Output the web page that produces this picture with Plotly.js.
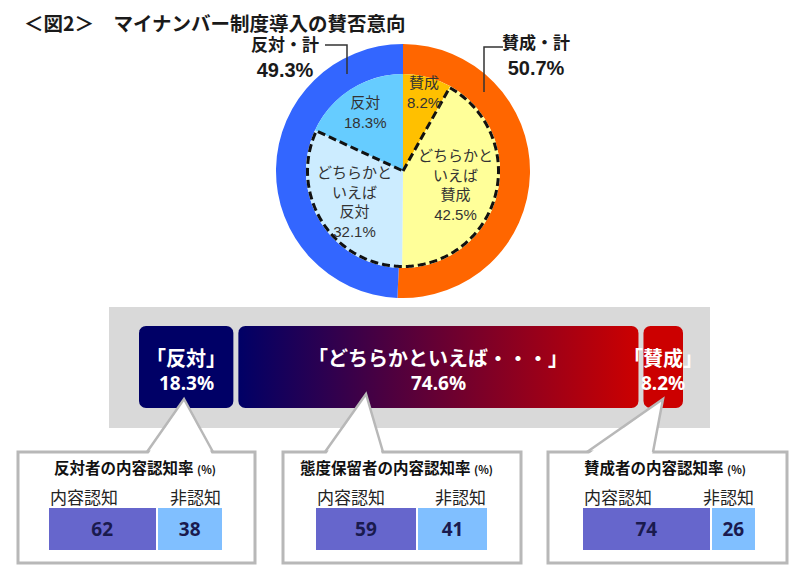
<!DOCTYPE html>
<html><head><meta charset="utf-8">
<script src="https://cdn.plot.ly/plotly-3.0.1.min.js"></script>
<style>html,body{margin:0;padding:0;background:#fff}</style>
</head><body><div id="chart" style="width:805px;height:577px"></div>
<script>
// ---------------- data ----------------
const outerLabels = ['賛成・計', '反対・計'];
const outerValues = [50.7, 49.3];
const innerLabels = ['賛成', 'どちらかといえば賛成', 'どちらかといえば反対', '反対'];
const innerLabelText = ['賛成', 'どちらかと<br>いえば<br>賛成', 'どちらかと<br>いえば<br>反対', '反対'];
const innerValues = [8.2, 42.5, 32.1, 18.3];
const bandLabels = ['「反対」', '「どちらかといえば・・・」', '「賛成」'];
const bandValues = [18.3, 74.6, 8.2];
const groupTitles = ['反対者の内容認知率', '態度保留者の内容認知率', '賛成者の内容認知率'];
const awareLabels = ['内容認知', '非認知'];
const awareKnown = [62, 59, 74];
const awareUnknown = [38, 41, 26];
const chartTitle = '＜図2＞　マイナンバー制度導入の賛否意向';

// ---------------- helpers ----------------
const W = 805, H = 577;
const X = p => p / W, Y = p => 1 - p / H;
const sum = a => a.reduce((s, v) => s + v, 0);
const JP = '"Noto Sans CJK JP", sans-serif';
const MIX = '"Liberation Sans", Arial, "Noto Sans CJK JP", sans-serif';
const NUM = '"Noto Sans", "Liberation Sans", sans-serif';

const traces = [];
const shapes = [];
const annotations = [];

// ---------------- pie ----------------
const cx = 403, cy = 171, R = 127, Rin = 97;
traces.push({
  type: 'pie', values: outerValues, labels: outerLabels,
  domain: {x: [X(cx - R), X(cx + R)], y: [Y(cy + R), Y(cy - R)]},
  hole: Rin / R, sort: false, direction: 'clockwise', rotation: 0,
  marker: {colors: ['#FF6600', '#3366FF'], line: {width: 0}},
  textinfo: 'none', hoverinfo: 'skip', showlegend: false
});
traces.push({
  type: 'pie', values: innerValues, labels: innerLabels,
  domain: {x: [X(cx - Rin), X(cx + Rin)], y: [Y(cy + Rin), Y(cy - Rin)]},
  sort: false, direction: 'clockwise', rotation: 0,
  marker: {colors: ['#FFC000', '#FFFF99', '#CCECFF', '#66CCFF'], line: {width: 0}},
  textinfo: 'none', hoverinfo: 'skip', showlegend: false
});

const innerTot = sum(innerValues);
const innerCum = innerValues.map((v, i) => sum(innerValues.slice(0, i)));
const ang = v => v / innerTot * 360;
const pt = (deg, r) => [cx + r * Math.sin(deg * Math.PI / 180), cy - r * Math.cos(deg * Math.PI / 180)];

// dashed outline around the two "どちらかといえば" slices
{
  const a0 = ang(innerCum[1]), a1 = ang(innerCum[2] + innerValues[2]);
  let d = `M ${X(cx)},${Y(cy)}`;
  for (let a = a0; ; a += 1) {
    const aa = Math.min(a, a1);
    const [px, py] = pt(aa, Rin - 1.5);
    d += ` L ${X(px)},${Y(py)}`;
    if (aa >= a1) break;
  }
  d += ` L ${X(cx)},${Y(cy)}`;
  shapes.push({type: 'path', xref: 'paper', yref: 'paper', path: d, layer: 'above',
    line: {color: '#111111', width: 3, dash: '8px,4px'}});
}

// inner slice labels
const innerLabelR = [0.84, 0.56, 0.59, 0.71];
innerValues.forEach((v, i) => {
  const [px, py] = pt(ang(innerCum[i] + v / 2), innerLabelR[i] * Rin);
  annotations.push({xref: 'paper', yref: 'paper', x: X(px), y: Y(py),
    xanchor: 'center', yanchor: 'middle', showarrow: false,
    text: innerLabelText[i] + '<br>' + v.toFixed(1) + '%',
    font: {family: MIX, size: 15, color: '#333333'}});
});

// outer labels + leader lines
const outerLabelPos = [[536, 56], [285, 58]];
outerValues.forEach((v, i) => {
  annotations.push({xref: 'paper', yref: 'paper', x: X(outerLabelPos[i][0]), y: Y(outerLabelPos[i][1]),
    xanchor: 'center', yanchor: 'middle', showarrow: false,
    text: `<span style="font-size:17px">${outerLabels[i]}</span><br>${v.toFixed(1)}%`,
    font: {family: MIX, size: 20, color: '#1a1a1a', weight: 'bold'}});
});
const leader = (pts) => ({type: 'path', xref: 'paper', yref: 'paper', layer: 'above',
  path: pts.map((p, k) => (k ? 'L ' : 'M ') + X(p[0]) + ',' + Y(p[1])).join(' '),
  line: {color: '#333333', width: 1.5}});
shapes.push(leader([[325, 45], [347, 45], [347, 74]]));
shapes.push(leader([[503, 47], [484, 47], [484, 92]]));

// ---------------- band ----------------
shapes.push({type: 'rect', xref: 'paper', yref: 'paper', layer: 'below',
  x0: X(109), x1: X(710), y0: Y(428), y1: Y(307), fillcolor: '#D9D9D9', line: {width: 0}});

const bandL = 136.5, bandR = 685.5, bandT = 326, bandB = 408;
const bandTot = sum(bandValues);
const bandCum = bandValues.map((v, i) => sum(bandValues.slice(0, i)));
const pxX = (bandR - bandL) / bandTot, pxY = (bandB - bandT);
const gap = 5, rad = 7;
function roundedRect(x0, x1, y0, y1, rx, ry) {
  const xs = [], ys = [], n = 8;
  const corners = [[x1 - rx, y1 - ry, 0], [x1 - rx, y0 + ry, 90], [x0 + rx, y0 + ry, 180], [x0 + rx, y1 - ry, 270]];
  corners.forEach(([ccx, ccy, start]) => {
    for (let k = 0; k <= n; k++) {
      const t = (start + k * 90 / n) * Math.PI / 180;
      xs.push(ccx + rx * Math.sin(t)); ys.push(ccy + ry * Math.cos(t));
    }
  });
  xs.push(xs[0]); ys.push(ys[0]);
  return {xs, ys};
}
const bandColors = ['#000066', null, '#CC0000'];
bandValues.forEach((v, i) => {
  const x0 = bandCum[i] + gap / 2 / pxX, x1 = bandCum[i] + v - gap / 2 / pxX;
  const rr = roundedRect(x0, x1, 0, 1, rad / pxX, rad / pxY);
  const tr = {type: 'scatter', mode: 'lines', x: rr.xs, y: rr.ys, xaxis: 'x', yaxis: 'y',
    fill: 'toself', line: {width: 0, color: 'rgba(0,0,0,0)'}, hoverinfo: 'skip', showlegend: false};
  if (bandColors[i]) tr.fillcolor = bandColors[i];
  else tr.fillgradient = {type: 'horizontal', colorscale: [[0, '#000066'], [1, '#CC0000']]};
  traces.push(tr);
  annotations.push({xref: 'x', yref: 'paper', x: bandCum[i] + v / 2, y: Y(357),
    xanchor: 'center', yanchor: 'middle', showarrow: false, text: bandLabels[i],
    font: {family: JP, size: 20, color: '#ffffff', weight: 'bold'}});
  annotations.push({xref: 'x', yref: 'paper', x: bandCum[i] + v / 2, y: Y(383),
    xanchor: 'center', yanchor: 'middle', showarrow: false, text: v.toFixed(1) + '%',
    font: {family: NUM, size: 19, color: '#ffffff', weight: 'bold'}});
});

// ---------------- callouts ----------------
const callouts = [
  {x0: 18, x1: 255, y0: 452, y1: 563, tip: [184, 399], bl: 147, br: 213, tx: 52},
  {x0: 283, x1: 521, y0: 452, y1: 563, tip: [366, 394], bl: 325, br: 383, tx: 298},
  {x0: 548, x1: 787, y0: 452, y1: 563, tip: [663, 399], bl: 587, br: 653, tx: 582}
];
const gray = '#B8B8B8';
callouts.forEach(c => {
  shapes.push({type: 'rect', xref: 'paper', yref: 'paper', layer: 'below',
    x0: X(c.x0), x1: X(c.x1), y0: Y(c.y1), y1: Y(c.y0), fillcolor: '#ffffff', line: {color: gray, width: 3}});
  shapes.push({type: 'path', xref: 'paper', yref: 'paper', layer: 'above',
    path: `M ${X(c.bl + 1)},${Y(c.y0 + 2.5)} L ${X(c.tip[0])},${Y(c.tip[1])} L ${X(c.br - 1)},${Y(c.y0 + 2.5)} Z`,
    fillcolor: '#ffffff', line: {width: 0}});
  shapes.push({type: 'path', xref: 'paper', yref: 'paper', layer: 'above',
    path: `M ${X(c.bl)},${Y(c.y0)} L ${X(c.tip[0])},${Y(c.tip[1])} L ${X(c.br)},${Y(c.y0)}`,
    fillcolor: 'rgba(0,0,0,0)', line: {color: gray, width: 2.5}});
});

// ---------------- awareness bars ----------------
const awX = [[49, 222], [316, 487], [583, 755]], awT = 508, awB = 550;
const layoutAxes = {};
awareKnown.forEach((kv, k) => {
  const n = k + 2;
  layoutAxes['xaxis' + n] = {domain: [X(awX[k][0] - 1), X(awX[k][1] + 1)], range: [0, 100], visible: false, anchor: 'y' + n, fixedrange: true};
  layoutAxes['yaxis' + n] = {domain: [Y(awB + 1), Y(awT - 1)], range: [-0.5, 0.5], visible: false, anchor: 'x' + n, fixedrange: true};
  [[kv, '#6666CC'], [awareUnknown[k], '#80BFFF']].forEach(([v, col]) => {
    traces.push({type: 'bar', orientation: 'h', x: [v], y: [0], width: [1], xaxis: 'x' + n, yaxis: 'y' + n,
      marker: {color: col, line: {color: '#ffffff', width: 2}},
      text: [String(v)], textposition: 'inside', insidetextanchor: 'middle',
      textfont: {family: NUM, size: 19, color: '#1A1A4E', weight: 'bold'},
      hoverinfo: 'skip', showlegend: false});
  });
  annotations.push({xref: 'paper', yref: 'paper', x: X(callouts[k].tx), y: Y(467), xanchor: 'left', yanchor: 'middle',
    showarrow: false, text: groupTitles[k] + ' <span style="font-size:11px">(%)</span>',
    font: {family: JP, size: 15.5, color: '#111111', weight: 'bold'}});
  annotations.push({xref: 'x' + n + ' domain', yref: 'paper', x: 0, y: Y(496), xanchor: 'left', yanchor: 'middle',
    showarrow: false, text: awareLabels[0], font: {family: JP, size: 17, color: '#222222'}});
  annotations.push({xref: 'x' + n + ' domain', yref: 'paper', x: 1, y: Y(496), xanchor: 'right', yanchor: 'middle',
    showarrow: false, text: awareLabels[1], font: {family: JP, size: 17, color: '#222222'}});
});

// ---------------- title ----------------
annotations.push({xref: 'paper', yref: 'paper', x: X(22), y: Y(22), xanchor: 'left', yanchor: 'middle',
  showarrow: false, text: chartTitle, font: {family: JP, size: 19.5, color: '#1a1a1a', weight: 'bold'}});

const layout = Object.assign({
  width: W, height: H, margin: {l: 0, r: 0, t: 0, b: 0},
  paper_bgcolor: '#ffffff', plot_bgcolor: 'rgba(0,0,0,0)',
  showlegend: false, hovermode: false, barmode: 'stack',
  xaxis: {domain: [X(bandL), X(bandR)], range: [0, bandTot], visible: false, anchor: 'y', fixedrange: true},
  yaxis: {domain: [Y(bandB), Y(bandT)], range: [0, 1], visible: false, anchor: 'x', fixedrange: true},
  shapes: shapes, annotations: annotations
}, layoutAxes);

Plotly.newPlot('chart', traces, layout, {staticPlot: true, displayModeBar: false});
</script>
</body></html>
